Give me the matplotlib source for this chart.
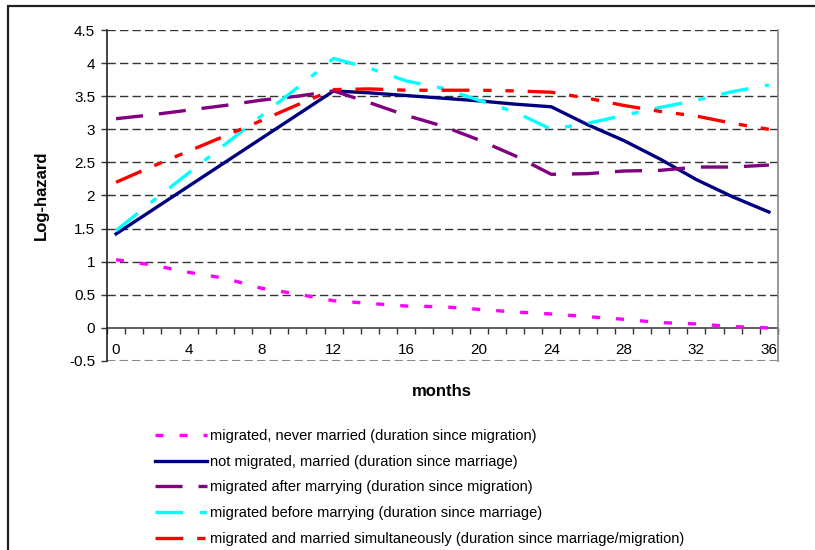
import matplotlib
matplotlib.use("Agg")
import matplotlib.pyplot as plt
from matplotlib.patches import Rectangle

plt.rcParams["font.family"] = ["Liberation Sans", "DejaVu Sans"]
plt.rcParams["lines.scale_dashes"] = False

# months sampled every 2
months = list(range(0, 37, 2))

never_married = [1.03, 0.95, 0.84, 0.75, 0.60, 0.51, 0.41, 0.37, 0.33, 0.32,
                 0.28, 0.24, 0.21, 0.17, 0.13, 0.08, 0.06, 0.02, 0.00]
not_migrated = [1.42, 1.78, 2.14, 2.50, 2.86, 3.22, 3.58, 3.55, 3.51, 3.47,
                3.43, 3.38, 3.34, 3.07, 2.83, 2.55, 2.24, 1.98, 1.75]
after_marrying = [3.16, 3.22, 3.29, 3.36, 3.44, 3.50, 3.58, 3.40, 3.21, 3.05,
                  2.84, 2.60, 2.32, 2.33, 2.37, 2.38, 2.43, 2.43, 2.46]
before_marrying = [1.47, 1.91, 2.34, 2.77, 3.20, 3.63, 4.07, 3.92, 3.73, 3.62,
                   3.44, 3.26, 3.00, 3.09, 3.21, 3.33, 3.44, 3.57, 3.67]
simultaneous = [2.20, 2.44, 2.67, 2.90, 3.13, 3.37, 3.60, 3.61, 3.59, 3.59,
                3.59, 3.58, 3.56, 3.47, 3.36, 3.27, 3.20, 3.09, 3.00]

labels = [
    "migrated, never married (duration since migration)",
    "not migrated, married (duration since marriage)",
    "migrated after marrying (duration since migration)",
    "migrated before marrying (duration since marriage)",
    "migrated and married simultaneously (duration since marriage/migration)",
]

x_ticks = list(range(0, 37, 4))
y_ticks = [-0.5, 0, 0.5, 1, 1.5, 2, 2.5, 3, 3.5, 4, 4.5]

fig = plt.figure(figsize=(8.15, 5.5), dpi=100)
ax = fig.add_axes([107 / 815, 1 - 361 / 550, 671 / 815, 331 / 550])

# gridlines
for yv in y_ticks[2:]:
    ax.axhline(yv, color="#333333", lw=1.0, dashes=(6, 3), zorder=1)
ax.axhline(-0.5, color="#888888", lw=1.5, dashes=(6, 3), zorder=1)

lw = 2.4
ax.plot(months, never_married, color="#ff00ff", lw=lw, dashes=(5.8, 11.5),
        label=labels[0], zorder=3)
ax.plot(months, not_migrated, color="#000080", lw=lw, label=labels[1], zorder=3)
ax.plot(months, after_marrying, color="#800080", lw=lw, dashes=(19.5, 11.5),
        label=labels[2], zorder=3)
ax.plot(months, before_marrying, color="#00ffff", lw=lw, dashes=(20, 12, 5, 12),
        label=labels[3], zorder=3)
ax.plot(months, simultaneous, color="#ff0000", lw=lw,
        dashes=(20, 10, 6, 10, 6, 10), label=labels[4], zorder=3)

ax.set_xlim(-0.5, 36.5)
ax.set_ylim(-0.5, 4.5)

ax.spines["top"].set_visible(False)
ax.spines["right"].set_color("#888888")
ax.spines["right"].set_linewidth(1.2)
ax.spines["left"].set_color("#222222")
ax.spines["left"].set_linewidth(1.2)
ax.spines["bottom"].set_position(("data", 0))
ax.spines["bottom"].set_color("#444444")
ax.spines["bottom"].set_linewidth(1.2)
ax.spines["bottom"].set_zorder(2)

ax.set_xticks(x_ticks)
ax.set_xticks([k - 0.5 for k in range(38)], minor=True)
ax.tick_params(axis="x", which="major", length=0, pad=11, labelsize=11)
ax.tick_params(axis="x", which="minor", length=4, width=1, color="#333333",
               direction="out")
ax.set_yticks(y_ticks)
ax.set_yticklabels(["-0.5", "0", "0.5", "1", "1.5", "2", "2.5", "3", "3.5",
                    "4", "4.5"])
ax.tick_params(axis="y", length=4.5, width=1, color="#333333", pad=4,
               labelsize=11)

fig.text(41 / 815, 1 - 195 / 550, "Log-hazard", rotation=90, ha="center",
         va="center", fontsize=12, fontweight="bold")
fig.text(442 / 815, 1 - 391 / 550, "months", ha="center", va="center",
         fontsize=12, fontweight="bold")

fig.legend(loc="upper left", bbox_to_anchor=(155 / 815, 1 - 429 / 550),
           frameon=False, fontsize=10.5, handlelength=3.55, handletextpad=0.2,
           labelspacing=0.8, borderaxespad=0, borderpad=0)

fig.patches.append(Rectangle((8 / 815, -0.1), 1.2, 1.1 - 6 / 550,
                             transform=fig.transFigure, fill=False,
                             edgecolor="#222222", lw=1.6))

fig.savefig("out.png", dpi=100)
